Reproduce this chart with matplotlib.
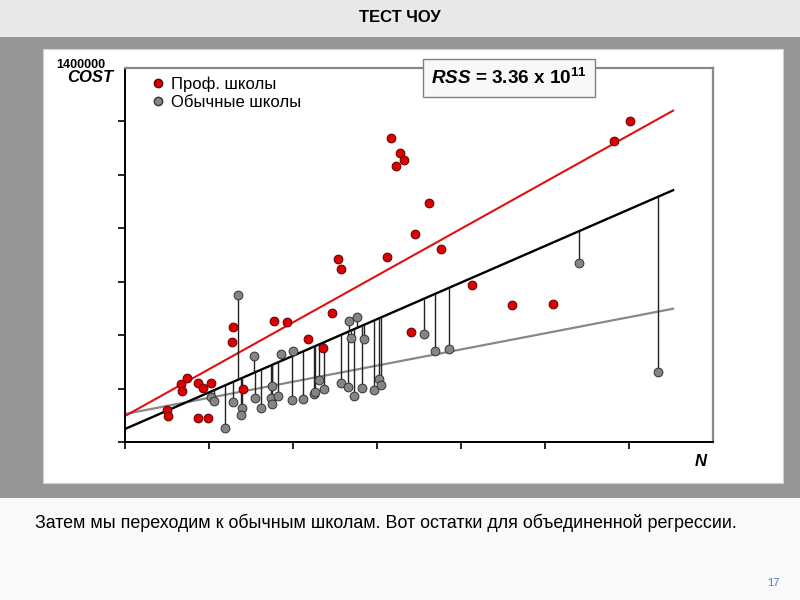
import matplotlib.pyplot as plt
import numpy as np
from matplotlib.patches import Rectangle
from matplotlib.lines import Line2D


plt.rcParams["mathtext.fontset"] = "custom"
plt.rcParams["mathtext.bf"] = "Liberation Sans:bold"
plt.rcParams["mathtext.it"] = "Liberation Sans:italic"
plt.rcParams["mathtext.rm"] = "Liberation Sans"
plt.rcParams["mathtext.bfit"] = "Liberation Sans:italic:bold"

# Professional schools (red)
prof_n = [100, 102, 133, 136, 148, 174, 186, 205, 174, 198, 255, 257, 281,
          355, 386, 436, 471, 493, 507, 514, 624, 633, 645, 655, 664, 681,
          690, 724, 752, 826, 921, 1019, 1164, 1202]
prof_cost = [120000, 97000, 217000, 191000, 240000, 221000, 202000, 221000,
             90000, 90000, 374000, 430000, 198000, 453000, 449000, 386000,
             352000, 483000, 685000, 648000, 692000, 1138000, 1033000,
             1082000, 1056000, 412000, 779000, 895000, 722000, 588000,
             513000, 517000, 1127000, 1202000]

# Regular schools (gray)
reg_n = [269, 238, 205, 212, 257, 279, 276, 307, 310, 324, 350, 348, 350,
         364, 371, 398, 400, 424, 450, 452, 462, 474, 514, 531, 545, 564,
         593, 605, 610, 533, 552, 538, 569, 712, 738, 771, 1081, 1269]
reg_cost = [550000, 52000, 168000, 153000, 150000, 127000, 101000, 322000,
            165000, 127000, 210000, 165000, 142000, 172000, 329000, 157000,
            341000, 161000, 180000, 187000, 232000, 198000, 221000, 206000,
            172000, 202000, 195000, 236000, 213000, 453000, 468000, 389000,
            386000, 404000, 341000, 348000, 670000, 262000]

# Regression lines: (intercept, slope)
prof_fit = (97300, 876)
pooled_fit = (48700, 685)
reg_fit = (104800, 302)
line_n = [0, 1305]

x_ticks = [0, 200, 400, 600, 800, 1000, 1200]
y_ticks = [0, 200000, 400000, 600000, 800000, 1000000, 1200000]

W, H = 800, 600


def fx(x):
    return x / W


def fy(y):
    return 1 - y / H


fig = plt.figure(figsize=(8, 6), dpi=100)
fig.patch.set_facecolor("#f9f9f9")

# slide background bands
fig.add_artist(Rectangle((0, fy(37)), 1, 37 / H, transform=fig.transFigure,
                         facecolor="#e8e8e8", edgecolor="none", zorder=0))
fig.add_artist(Rectangle((0, fy(498)), 1, (498 - 37) / H, transform=fig.transFigure,
                         facecolor="#969696", edgecolor="none", zorder=0))
fig.add_artist(Rectangle((fx(43), fy(483)), (783 - 43) / W, (483 - 49) / H,
                         transform=fig.transFigure, facecolor="white",
                         edgecolor="#d0d0d0", linewidth=0.8, zorder=0))

ax = fig.add_axes([fx(125), fy(442), (713 - 125) / W, (442 - 68) / H])
ax.set_facecolor("white")
ax.set_zorder(1)

line_n_arr = np.array(line_n, dtype=float)
ax.plot(line_n_arr, reg_fit[0] + reg_fit[1] * line_n_arr,
        color="#888888", linewidth=1.6, zorder=2)
ax.plot(line_n_arr, pooled_fit[0] + pooled_fit[1] * line_n_arr,
        color="black", linewidth=1.7, zorder=2)
ax.plot(line_n_arr, prof_fit[0] + prof_fit[1] * line_n_arr,
        color="#e01010", linewidth=1.5, zorder=2)

# residuals of regular schools from the pooled regression
reg_n_arr = np.array(reg_n, dtype=float)
pooled_at_reg = pooled_fit[0] + pooled_fit[1] * reg_n_arr
ax.vlines(reg_n_arr, reg_cost, pooled_at_reg, color="#222222",
          linewidth=1.0, zorder=3)

ax.scatter(reg_n, reg_cost, s=40, facecolor="#858585", edgecolor="#333333",
           linewidth=0.7, zorder=4)
ax.scatter(prof_n, prof_cost, s=40, facecolor="#dd0000", edgecolor="#5a0000",
           linewidth=0.7, zorder=5)

ax.set_xlim(0, 1400)
ax.set_ylim(0, 1400000)
ax.set_xticks(x_ticks)
ax.set_yticks(y_ticks)
ax.set_xticklabels([])
ax.set_yticklabels([])
ax.tick_params(direction="out", length=5, width=1.2, color="black")

ax.spines["left"].set_color("black")
ax.spines["bottom"].set_color("black")
ax.spines["left"].set_linewidth(1.4)
ax.spines["bottom"].set_linewidth(1.4)
ax.spines["top"].set_color("#888888")
ax.spines["right"].set_color("#888888")
ax.spines["top"].set_linewidth(1.6)
ax.spines["right"].set_linewidth(1.6)

handles = [
    Line2D([0], [0], marker="o", linestyle="", markersize=6,
           markerfacecolor="#dd0000", markeredgecolor="#5a0000",
           label="Проф. школы"),
    Line2D([0], [0], marker="o", linestyle="", markersize=6,
           markerfacecolor="#858585", markeredgecolor="#333333",
           label="Обычные школы"),
]
ax.legend(handles=handles, loc="upper left", bbox_to_anchor=(0.0234, 1.012),
          frameon=False, handlelength=0.83, handletextpad=0.33, borderpad=0.25,
          labelspacing=0.2, prop={"family": "Liberation Sans", "size": 12})

fig.text(fx(56), fy(65), "1400000", fontsize=9, fontweight="bold",
         family="Liberation Sans", ha="left", va="center", zorder=5)
fig.text(fx(90), fy(77), "COST", fontsize=12, fontweight="bold",
         fontstyle="italic", family="Liberation Sans", ha="center",
         va="center", zorder=6)
fig.text(fx(701), fy(461), "N", fontsize=12, fontweight="bold",
         fontstyle="italic", family="Liberation Sans", ha="center",
         va="center", zorder=6)

fig.text(fx(509), fy(78),
         r"$\mathbfit{RSS}$ = 3.36 x 10$^{\mathbf{11}}$",
         fontsize=13.6, fontweight="bold", family="Liberation Sans",
         ha="center", va="center", zorder=6,
         bbox=dict(boxstyle="square,pad=0.45", facecolor="#f8f8f8",
                   edgecolor="#808080", linewidth=1.0))

fig.text(0.5, fy(18), "ТЕСТ ЧОУ", fontsize=12, fontweight="bold",
         family="Liberation Sans", ha="center", va="center")
fig.text(fx(35), fy(523),
         "Затем мы переходим к обычным школам. Вот остатки для объединенной регрессии.",
         fontsize=12.9, family="Liberation Sans", ha="left", va="center")
fig.text(fx(773), fy(583), "17", fontsize=8, color="#5577cc",
         family="Liberation Sans", ha="center", va="center")

fig.savefig("out.png", dpi=100)
